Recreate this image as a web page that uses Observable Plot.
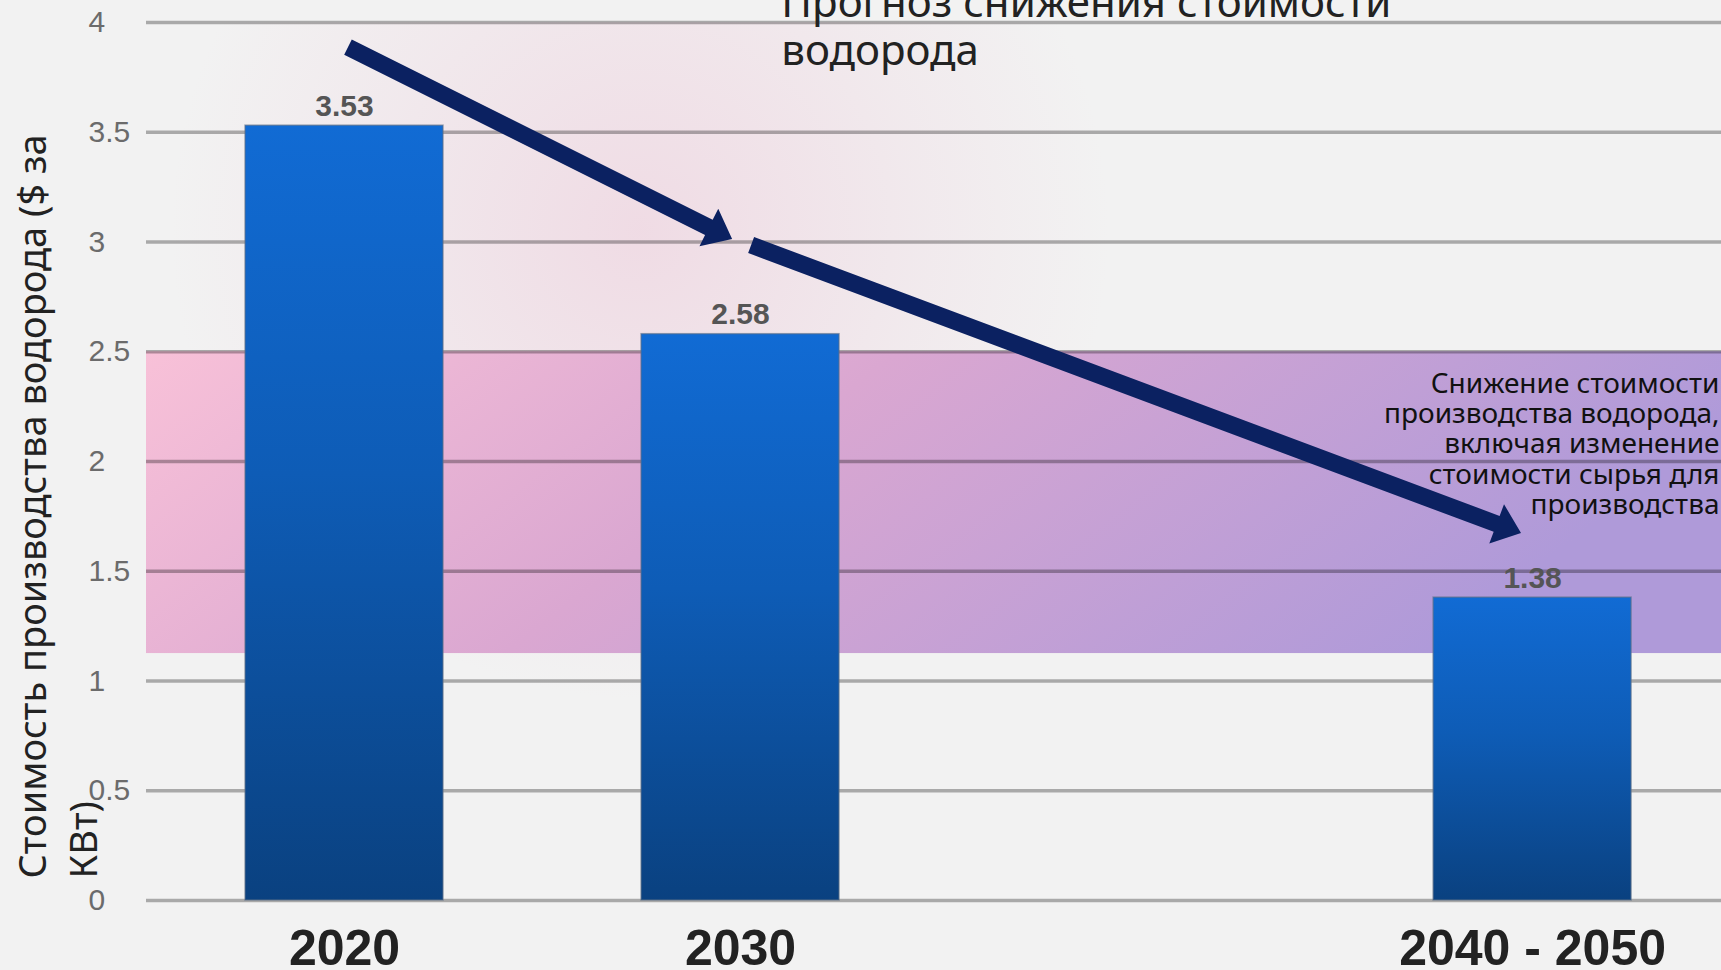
<!DOCTYPE html>
<html>
<head>
<meta charset="utf-8">
<script src="https://cdn.jsdelivr.net/npm/d3@7"></script>
<script src="https://cdn.jsdelivr.net/npm/@observablehq/plot@0.6"></script>
<style>
html, body { margin: 0; padding: 0; background: #f2f2f2; overflow: hidden; }
</style>
</head>
<body>
<div id="chart"></div>
<script>
// ---- data ----
const periods = ["2020", "2030", "2040 - 2050"];
const periodYears = [2020, 2030, 2050];
const costs = [3.53, 2.58, 1.38];
const yTicks = [0, 0.5, 1, 1.5, 2, 2.5, 3, 3.5, 4];
const bandLow = 1.125;
const bandHigh = 2.5;
const arrowStartYears = [2020.1, 2030.28];
const arrowStartCosts = [3.886, 2.984];
const arrowEndYears = [2029.8, 2049.72];
const arrowEndCosts = [3.011, 1.672];
const titleText = "Прогноз снижения стоимости\nводорода";
const noteText = "Снижение стоимости\nпроизводства водорода,\nвключая изменение\nстоимости сырья для\nпроизводства";
const yLabel = "Стоимость производства водорода ($ за\nКВт)";

const bars = periods.map((p, i) => ({period: p, year: periodYears[i], cost: costs[i]}));
const arrows = arrowStartYears.map((_, i) => ({
  x1: arrowStartYears[i], y1: arrowStartCosts[i],
  x2: arrowEndYears[i], y2: arrowEndCosts[i]
}));
const xDomain = [2015, 2054.77];

function defsMark() {
  const defs = d3.create("svg:defs");
  const band = defs.append("linearGradient").attr("id", "bandGrad")
    .attr("x1", 0).attr("y1", 0).attr("x2", 1).attr("y2", 0.25);
  [[0, "#f8c1d8"], [0.45, "#daa7d1"], [1, "#af9ad9"]]
    .forEach(([o, c]) => band.append("stop").attr("offset", o).attr("stop-color", c));
  const bar = defs.append("linearGradient").attr("id", "barGrad")
    .attr("x1", 0).attr("y1", 0).attr("x2", 0).attr("y2", 1);
  [[0, "#116bd4"], [0.45, "#0e5cb6"], [1, "#0a4180"]]
    .forEach(([o, c]) => bar.append("stop").attr("offset", o).attr("stop-color", c));
  const glow = defs.append("radialGradient").attr("id", "glow")
    .attr("gradientUnits", "userSpaceOnUse").attr("cx", 640).attr("cy", 230).attr("r", 470);
  [[0, "rgba(236,185,208,0.40)"], [0.6, "rgba(236,185,208,0.15)"], [1, "rgba(236,185,208,0)"]]
    .forEach(([o, c]) => glow.append("stop").attr("offset", o).attr("stop-color", c));
  return defs.node();
}

function arrowMark(index, scales) {
  const g = d3.create("svg:g");
  for (const a of arrows) {
    const x1 = scales.x(a.x1), y1 = scales.y(a.y1);
    const x2 = scales.x(a.x2), y2 = scales.y(a.y2);
    const dx = x2 - x1, dy = y2 - y1, L = Math.hypot(dx, dy);
    const ux = dx / L, uy = dy / L, nx = -uy, ny = ux;
    const hl = 26, hw = 21, sw = 8.5;
    const bx = x2 - ux * hl, by = y2 - uy * hl;
    const pts = [
      [x1 + nx * sw, y1 + ny * sw], [bx + nx * sw, by + ny * sw], [bx + nx * hw, by + ny * hw],
      [x2, y2],
      [bx - nx * hw, by - ny * hw], [bx - nx * sw, by - ny * sw], [x1 - nx * sw, y1 - ny * sw]
    ];
    g.append("polygon").attr("points", pts.map(p => p.join(",")).join(" ")).attr("fill", "#0b2161");
  }
  return g.node();
}

const chart = Plot.plot({
  width: 1721,
  height: 970,
  marginLeft: 146,
  marginRight: 0,
  marginTop: 22,
  marginBottom: 70,
  style: {background: "#f2f2f2", fontFamily: "'Liberation Sans', Arial, sans-serif", overflow: "visible"},
  x: {type: "linear", domain: xDomain},
  y: {domain: [0, 4]},
  marks: [
    defsMark,
    Plot.rect([0], {fill: "url(#glow)"}),
    Plot.rect([[bandLow, bandHigh]], {y1: d => d[0], y2: d => d[1], fill: "url(#bandGrad)"}),
    Plot.gridY(yTicks, {stroke: "#000", strokeOpacity: 0.3, strokeWidth: 3.5}),
    Plot.rectY(bars, {
      x1: d => d.year - 2.5, x2: d => d.year + 2.5, y: "cost",
      fill: "url(#barGrad)", stroke: "#5d6f87", strokeWidth: 1.5, strokeOpacity: 0.6
    }),
    Plot.axisY({
      ticks: yTicks, tickFormat: d => String(d), tickSize: 0, tickPadding: 58,
      textAnchor: "start", fontSize: 30, fill: "#6b6b6b", label: null
    }),
    Plot.axisX({
      ticks: periodYears, tickFormat: d => periods[periodYears.indexOf(d)],
      tickSize: 0, tickPadding: 29, fontSize: 50, fontWeight: "bold", fill: "#222", label: null
    }),
    Plot.text(bars, {
      x: "year", y: "cost", text: d => d.cost.toFixed(2), dy: -10, lineAnchor: "bottom",
      fontSize: 30, fontWeight: "bold", fill: "#555"
    }),
    arrowMark,
    Plot.text([titleText], {
      x: 2031.03, y: 4.18, text: d => d, textAnchor: "start", lineAnchor: "top",
      fontSize: 42, lineHeight: 1.143, fontFamily: "'Noto Sans', sans-serif", fill: "#222"
    }),
    Plot.text([noteText], {
      x: 2054.72, y: 2.41, text: d => d, textAnchor: "end", lineAnchor: "top",
      fontSize: 28, lineHeight: 1.08, fontFamily: "'Noto Sans', sans-serif", fill: "#111"
    }),
    Plot.text([yLabel], {
      frameAnchor: "bottom-left", dx: -136, dy: -22, rotate: -90, text: d => d,
      textAnchor: "start", lineAnchor: "top", lineHeight: 1.33,
      fontSize: 38, fontFamily: "'Noto Sans', sans-serif", fill: "#222"
    })
  ]
});
document.getElementById("chart").appendChild(chart);
</script>
</body>
</html>
